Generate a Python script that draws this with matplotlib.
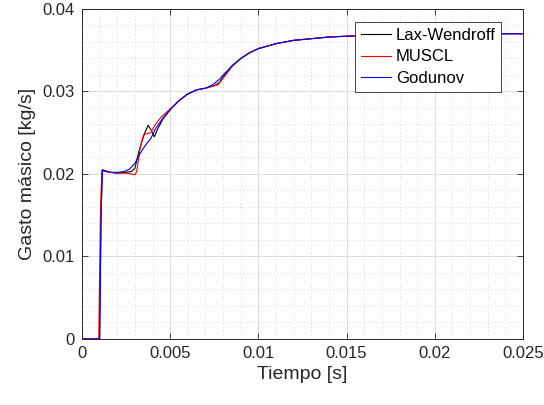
import numpy as np
import matplotlib.pyplot as plt
from matplotlib.ticker import MultipleLocator, FuncFormatter

plt.rcParams['font.family'] = ['Liberation Sans', 'DejaVu Sans']

# Lax-Wendroff
t_lw = [0, 0.00100, 0.00108, 0.00115, 0.0013, 0.0016, 0.0020, 0.0025, 0.0028, 0.0030,
        0.0032, 0.0034, 0.0036, 0.00375, 0.0039, 0.0041, 0.0043, 0.0046, 0.0050, 0.0055,
        0.0060, 0.0065, 0.0070, 0.0075, 0.0078, 0.0080, 0.0085, 0.0090, 0.0095, 0.0100,
        0.011, 0.012, 0.013, 0.014, 0.015, 0.016, 0.018, 0.020, 0.022, 0.025]
m_lw = [0, 0, 0.0150, 0.0205, 0.0204, 0.0202, 0.0201, 0.0202, 0.0203, 0.0207,
        0.0225, 0.0240, 0.0252, 0.0259, 0.0254, 0.0245, 0.0255, 0.0267, 0.0278, 0.0289,
        0.0297, 0.0302, 0.0304, 0.0307, 0.0311, 0.0318, 0.0331, 0.0340, 0.0347, 0.0352,
        0.0358, 0.0362, 0.0364, 0.0366, 0.0367, 0.0368, 0.0369, 0.0369, 0.0370, 0.0370]

# MUSCL
t_mu = [0, 0.00095, 0.00105, 0.00113, 0.0013, 0.0016, 0.0020, 0.0025, 0.0028, 0.0030,
        0.0031, 0.0033, 0.0035, 0.0037, 0.0039, 0.0041, 0.0044, 0.0047, 0.0050, 0.0055,
        0.0060, 0.0065, 0.0070, 0.0075, 0.0077, 0.0080, 0.0085, 0.0090, 0.0095, 0.0100,
        0.011, 0.012, 0.013, 0.014, 0.015, 0.016, 0.018, 0.020, 0.022, 0.025]
m_mu = [0, 0, 0.0160, 0.0204, 0.0203, 0.0202, 0.0201, 0.0201, 0.0200, 0.0199,
        0.0203, 0.0232, 0.0248, 0.0249, 0.0250, 0.0258, 0.0267, 0.0273, 0.0279, 0.0289,
        0.0297, 0.0302, 0.0304, 0.0307, 0.0308, 0.0316, 0.0330, 0.0340, 0.0347, 0.0352,
        0.0358, 0.0362, 0.0364, 0.0366, 0.0367, 0.0368, 0.0369, 0.0369, 0.0370, 0.0370]

# Godunov
t_go = [0, 0.00100, 0.00108, 0.00116, 0.0013, 0.0016, 0.0020, 0.0024, 0.0027, 0.0030,
        0.0033, 0.0036, 0.0039, 0.0042, 0.0046, 0.0050, 0.0055, 0.0060, 0.0065, 0.0070,
        0.0074, 0.0078, 0.0080, 0.0085, 0.0090, 0.0095, 0.0100, 0.011, 0.012, 0.013,
        0.014, 0.015, 0.016, 0.018, 0.020, 0.022, 0.025]
m_go = [0, 0, 0.0150, 0.0205, 0.0204, 0.0202, 0.0202, 0.0203, 0.0206, 0.0213,
        0.0225, 0.0235, 0.0243, 0.0256, 0.0268, 0.0278, 0.0289, 0.0297, 0.0302, 0.0304,
        0.0308, 0.0315, 0.0320, 0.0331, 0.0340, 0.0347, 0.0352, 0.0358, 0.0362, 0.0364,
        0.0366, 0.0367, 0.0368, 0.0369, 0.0369, 0.0370, 0.0370]

fig = plt.figure(figsize=(5.44, 4.05), dpi=100)
ax = fig.add_axes([0.1507, 0.163, 0.8107, 0.8148])

ax.plot(t_lw, m_lw, color='black', lw=0.8, label='Lax-Wendroff')
ax.plot(t_mu, m_mu, color='red', lw=0.8, label='MUSCL')
ax.plot(t_go, m_go, color='blue', lw=0.8, label='Godunov')

ax.set_xlim(0, 0.025)
ax.set_ylim(0, 0.04)
ax.xaxis.set_major_locator(MultipleLocator(0.005))
ax.xaxis.set_minor_locator(MultipleLocator(0.001))
ax.yaxis.set_major_locator(MultipleLocator(0.01))
ax.yaxis.set_minor_locator(MultipleLocator(0.002))
fmt = FuncFormatter(lambda v, p: '%g' % round(v, 6))
ax.xaxis.set_major_formatter(fmt)
ax.yaxis.set_major_formatter(fmt)

ax.grid(True, which='major', color='#dcdcdc', lw=0.8)
ax.grid(True, which='minor', color='#d8d8d8', lw=0.6, ls=(0, (1.5, 3)))
ax.set_axisbelow(True)
ax.tick_params(which='major', direction='in', length=4, top=True, right=True,
               labelsize=12, colors='#262626', width=0.6, pad=5)
ax.tick_params(which='minor', length=0)
for s in ax.spines.values():
    s.set_color('#262626')
    s.set_linewidth(0.7)

ax.set_xlabel('Tiempo [s]', fontsize=14, color='#262626', labelpad=4)
ax.set_ylabel('Gasto másico [kg/s]', fontsize=14, color='#262626', labelpad=5)

leg = ax.legend(loc='upper right', bbox_to_anchor=(0.951, 0.961), borderaxespad=0,
                fontsize=12, fancybox=False, framealpha=1, edgecolor='#262626',
                handlelength=1.8, handletextpad=0.3, borderpad=0.35, labelspacing=0.4)
leg.get_frame().set_linewidth(0.6)

fig.savefig('out.png', dpi=100)
